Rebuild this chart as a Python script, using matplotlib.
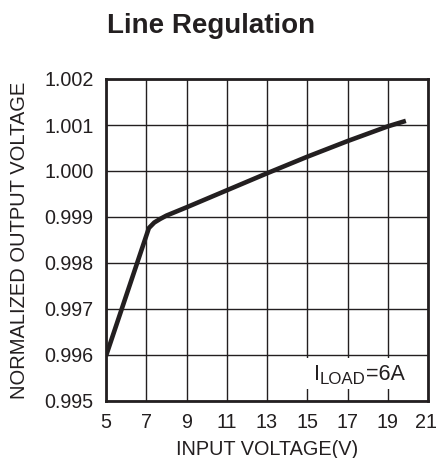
import matplotlib
matplotlib.use("Agg")
import matplotlib.pyplot as plt
from matplotlib.patches import Rectangle
from matplotlib.transforms import ScaledTranslation

plt.rcParams['font.family'] = ['Liberation Sans', 'DejaVu Sans']

# data
input_voltage = [5.0, 7.13, 7.4, 7.7, 8.0, 9.0, 11.0, 13.0, 15.0, 17.0, 19.0, 19.9]
norm_vout = [0.99598, 0.99876, 0.99888, 0.99896, 0.99903, 0.99921, 0.99958,
             0.99995, 1.00031, 1.00065, 1.00097, 1.00109]
x_ticks = [5, 7, 9, 11, 13, 15, 17, 19, 21]
y_ticks = [0.995, 0.996, 0.997, 0.998, 0.999, 1.000, 1.001, 1.002]
title = "Line Regulation"
x_label = "INPUT VOLTAGE(V)"
y_label = "NORMALIZED OUTPUT VOLTAGE"

W, H = 437, 458
fig = plt.figure(figsize=(W / 100, H / 100), dpi=100)
ax = fig.add_axes([106 / W, 1 - 401 / H, (428 - 106) / W, (401 - 79) / H])

ink = '#231f20'
ax.plot(input_voltage, norm_vout, color=ink, lw=3.3, solid_capstyle='butt',
        solid_joinstyle='round', zorder=3)

ax.set_xlim(5, 21)
ax.set_ylim(0.995, 1.002)
ax.set_xticks(x_ticks)
ax.set_xticklabels([str(t) for t in x_ticks])
ax.set_yticks(y_ticks)
ax.set_yticklabels([f"{t:.3f}" for t in y_ticks])
ax.tick_params(length=0, labelsize=14.2, colors=ink, pad=9)
ax.grid(True, color=ink, lw=1.0)
ax.set_axisbelow(True)
for s in ax.spines.values():
    s.set_linewidth(2.0)
    s.set_color(ink)

# keep the last x tick label inside the canvas
last = ax.get_xticklabels()[-1]
last.set_transform(last.get_transform() +
                   ScaledTranslation(-2.5 / 100, 0, fig.dpi_scale_trans))

def fx(px):
    return px / W

def fy(py):
    return 1 - py / H

fig.text(fx(211.5), fy(33), title, ha='center', va='baseline',
         fontsize=20, fontweight='bold', color=ink)
fig.text(fx(267), fy(455), x_label, ha='center', va='baseline',
         fontsize=14.3, color=ink)
fig.text(fx(20), fy(240), y_label, ha='center', va='center',
         rotation=90, fontsize=14.5, color=ink)

# I_LOAD=6A label on a white box
fig.patches.append(Rectangle((fx(305), fy(389)), (411 - 305) / W, (389 - 358) / H,
                             transform=fig.transFigure, fc='white', ec='none',
                             zorder=1))
fig.text(fx(314.5), fy(380), "I", ha='left', va='baseline', fontsize=15.5,
         color=ink, zorder=4)
fig.text(fx(320), fy(384.5), "LOAD", ha='left', va='baseline', fontsize=12.2,
         color=ink, zorder=4)
fig.text(fx(366), fy(380), "=6A", ha='left', va='baseline', fontsize=15.5,
         color=ink, zorder=4)

fig.savefig('out.png', dpi=100)
